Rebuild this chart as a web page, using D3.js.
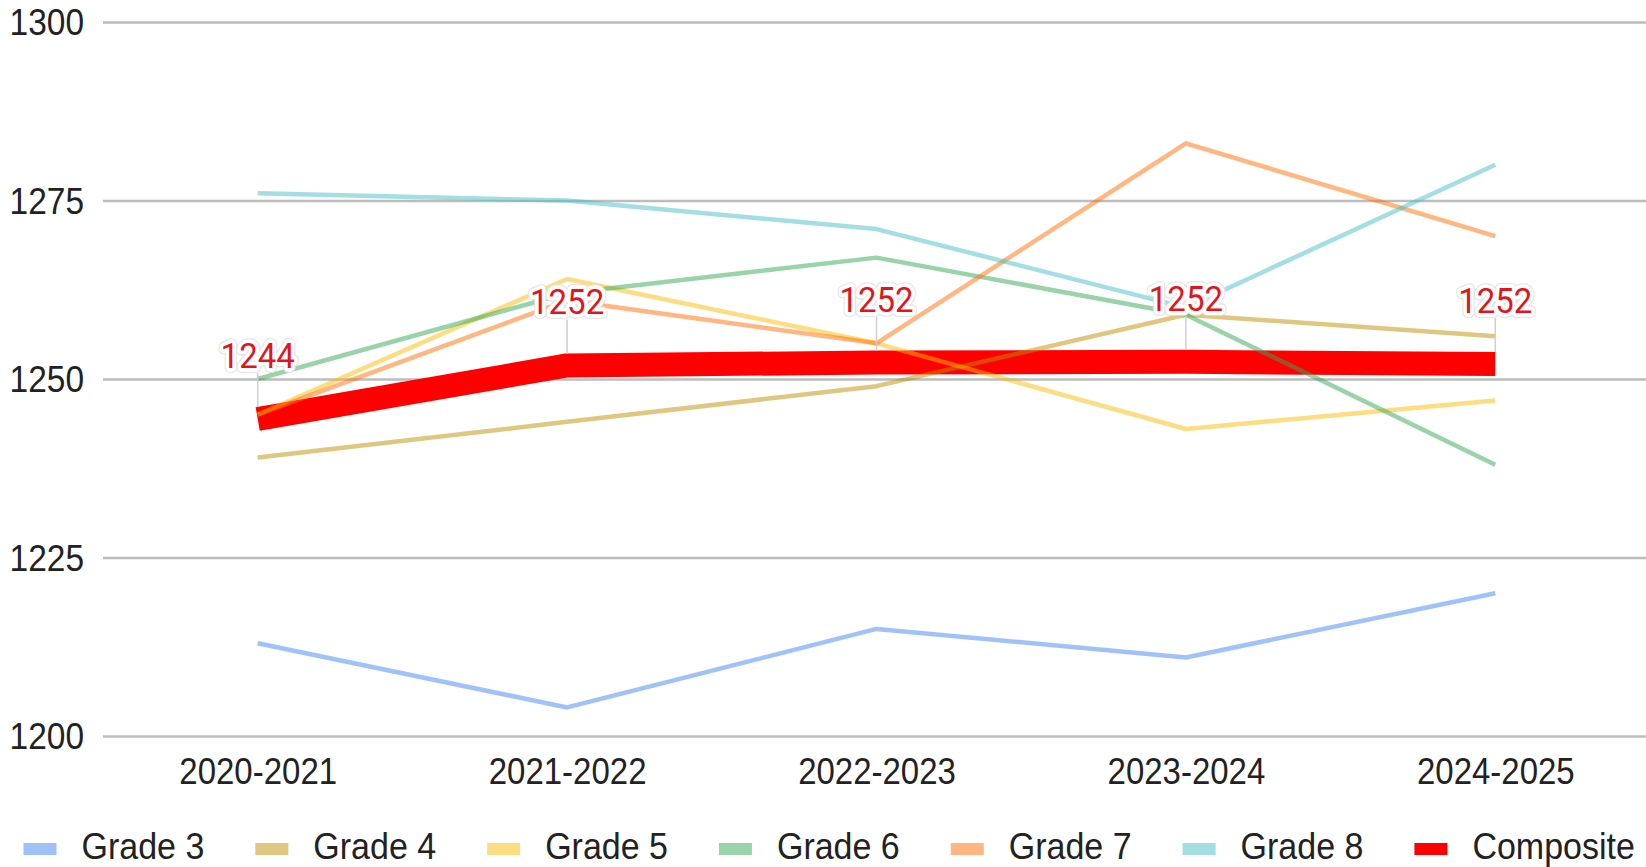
<!DOCTYPE html>
<html>
<head>
<meta charset="utf-8">
<script src="https://cdn.jsdelivr.net/npm/d3@7"></script>
<style>
  html, body { margin: 0; padding: 0; background: #fff; }
  svg { display: block; }
</style>
</head>
<body>
<svg id="chart" width="1646" height="867"></svg>
<script>
const categories = ["2020-2021", "2021-2022", "2022-2023", "2023-2024", "2024-2025"];
const grade3 = [1213, 1204, 1215, 1211, 1220];
const grade4 = [1239, 1244, 1249, 1259, 1256];
const grade5 = [1245, 1264, 1255, 1243, 1247];
const grade6 = [1250, 1262, 1267, 1259, 1238];
const grade7 = [1245, 1261, 1255, 1283, 1270];
const grade8 = [1276, 1275, 1271, 1260, 1280];
const composite = [1244.4, 1251.9, 1252.3, 1252.4, 1252.1];
const seriesNames = ["Grade 3", "Grade 4", "Grade 5", "Grade 6", "Grade 7", "Grade 8", "Composite"];
const seriesColors = ["#4285f4", "#bf9000", "#fbbc04", "#34a853", "#ff6d01", "#46bdc6", "#ff0000"];
const yTicks = [1200, 1225, 1250, 1275, 1300];

const gradeSeries = [grade3, grade4, grade5, grade6, grade7, grade8];

(function () {
const svg = d3.select("#chart");
const plotLeft = 103, plotRight = 1646, plotTop = 22, plotBottom = 736;
const fontMain = "'Liberation Sans', Arial, sans-serif";
const stretch = 1.12;

const x = d3.scalePoint().domain(categories).range([plotLeft, 1650]).padding(0.5);
const y = d3.scaleLinear().domain([1200, 1300]).range([plotBottom, plotTop]);

// gridlines + y labels
const yAxis = d3.axisLeft(y).tickValues(yTicks).tickSize(-(plotRight - plotLeft)).tickPadding(20).tickFormat(d3.format("d"));
const gy = svg.append("g").attr("transform", `translate(${plotLeft},0)`).call(yAxis);
gy.select(".domain").remove();
gy.selectAll(".tick line").attr("stroke", "#bdbdbd").attr("stroke-width", 2.5);
gy.selectAll(".tick text")
  .attr("font-family", fontMain)
  .attr("font-size", 33.5)
  .attr("fill", "#222")
  .attr("x", 0)
  .attr("dy", null)
  .attr("y", 0)
  .attr("transform", `translate(${84 - plotLeft},12.5) scale(1,${stretch})`);

// x labels
const xAxis = d3.axisBottom(x).tickSize(0).tickPadding(0);
const gx = svg.append("g").attr("transform", `translate(0,${plotBottom})`).call(xAxis);
gx.select(".domain").remove();
gx.selectAll(".tick text")
  .attr("font-family", fontMain)
  .attr("font-size", 33)
  .attr("fill", "#222")
  .attr("dy", null)
  .attr("y", 0)
  .attr("transform", `translate(0,48) scale(1,${stretch})`);

const line = d3.line().x((d, i) => x(categories[i])).y(d => y(d));

// composite first (grades drawn over it with transparency)
svg.append("path")
  .datum(composite)
  .attr("d", line)
  .attr("fill", "none")
  .attr("stroke", seriesColors[6])
  .attr("stroke-width", 24)
  .attr("stroke-linejoin", "round")
  .attr("stroke-linecap", "butt");

gradeSeries.forEach((s, k) => {
  svg.append("path")
    .datum(s)
    .attr("d", line)
    .attr("fill", "none")
    .attr("stroke", seriesColors[k])
    .attr("stroke-opacity", 0.5)
    .attr("stroke-width", 4.5)
    .attr("stroke-linejoin", "round");
});

// annotations for composite
const fmt = d3.format(".0f");
const ann = svg.append("g");
composite.forEach((v, i) => {
  const cx = x(categories[i]);
  const py = y(v);
  const base = py - 51;
  ann.append("line")
    .attr("x1", cx).attr("x2", cx)
    .attr("y1", base + 5).attr("y2", py - 12)
    .attr("stroke", "#cfcfcf").attr("stroke-width", 1.5);
  const t = fmt(v);
  const mk = () => ann.append("text")
    .attr("x", 0).attr("y", 0)
    .attr("transform", `translate(${cx},${base}) scale(1,1.06)`)
    .attr("text-anchor", "middle")
    .attr("font-family", "Roboto, sans-serif")
    .attr("font-size", 33)
    .text(t);
  mk().attr("fill", "none").attr("stroke", "#e2e2e2").attr("stroke-width", 9).attr("stroke-linejoin", "round");
  mk().attr("fill", "none").attr("stroke", "#fff").attr("stroke-width", 7).attr("stroke-linejoin", "round");
  mk().attr("fill", "#e3141b");
});

// legend
const legend = svg.append("g");
let lx = 23.5;
seriesNames.forEach((name, k) => {
  legend.append("rect")
    .attr("x", lx).attr("y", 843)
    .attr("width", 33).attr("height", 12)
    .attr("fill", seriesColors[k])
    .attr("fill-opacity", k === 6 ? 1 : 0.5);
  const txt = legend.append("text")
    .attr("x", 0).attr("y", 0)
    .attr("transform", `translate(${lx + 58},859) scale(1,1.08)`)
    .attr("font-family", fontMain)
    .attr("font-size", 34)
    .attr("fill", "#222")
    .text(name);
  const w = txt.node().getComputedTextLength();
  lx += 58 + w + 51;
});
})();
</script>
</body>
</html>
